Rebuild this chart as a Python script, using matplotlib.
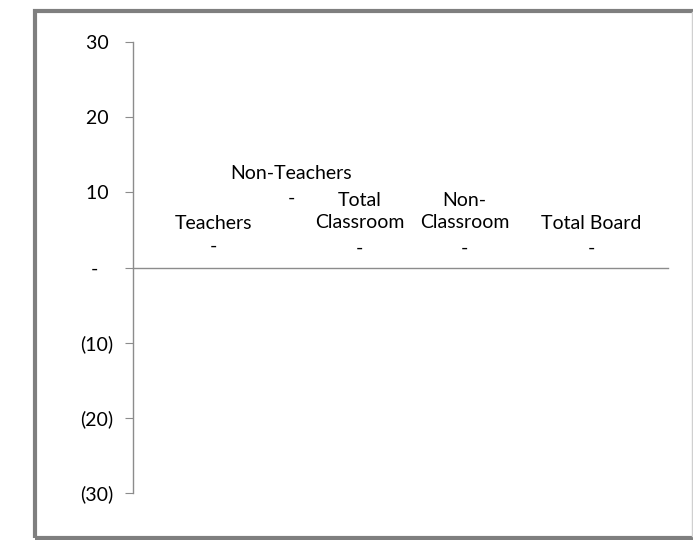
import matplotlib
matplotlib.use("Agg")
import matplotlib.pyplot as plt
from matplotlib.patches import Rectangle
from matplotlib.lines import Line2D

categories = ["Teachers", "Non-Teachers", "Total\nClassroom", "Non-\nClassroom", "Total Board"]
values = [0, 0, 0, 0, 0]
ytick_values = [30, 20, 10, 0, -10, -20, -30]
ytick_labels = ["30 ", "20 ", "10 ", "-   ", "(10)", "(20)", "(30)"]

# label placement (data coords of x, pixel offsets above the value)
label_x = [0.75, 1.48, 2.12, 3.10, 4.28]
name_off = [44, 94, 56, 56, 44]     # px above value line (center of name block)
value_off = [21, 69, 19, 19, 19]    # px above value line (dash)

FONT = "Lato"
W, H, DPI = 693, 540, 100
fig = plt.figure(figsize=(W / DPI, H / DPI), dpi=DPI)
fig.patch.set_facecolor("white")

ax = fig.add_axes([133 / W, 1 - 493 / H, (668 - 133) / W, (493 - 42) / H])
ax.set_xlim(0, 5)
ax.set_ylim(-30, 30)
ax.set_facecolor("none")

# invisible zero-height bars at category positions
ax.bar([i + 0.5 for i in range(len(values))], values, width=0.6, color="#4F81BD")

for s in ["top", "right"]:
    ax.spines[s].set_visible(False)
ax.spines["bottom"].set_position(("data", 0))
ax.spines["bottom"].set_color("#8c8c8c")
ax.spines["left"].set_color("#8c8c8c")
ax.spines["bottom"].set_linewidth(1.0)
ax.spines["left"].set_linewidth(1.0)
ax.set_xticks([])
ax.set_yticks(ytick_values)
ax.set_yticklabels(ytick_labels, fontfamily=FONT, fontsize=14)
ax.tick_params(axis="y", direction="out", length=6, color="#8c8c8c", pad=8, labelcolor="#000000")

px2pt = 72 / DPI
for i, (cat, v) in enumerate(zip(categories, values)):
    ax.annotate(cat, xy=(label_x[i], v), xytext=(0, name_off[i] * px2pt), textcoords="offset points",
                ha="center", va="center", fontfamily=FONT, fontsize=14, linespacing=1.4, color="black")
    lab = "-" if v == 0 else f"{v:,.0f}"
    ax.annotate(lab, xy=(label_x[i], v), xytext=(0, value_off[i] * px2pt), textcoords="offset points",
                ha="center", va="center", fontfamily=FONT, fontsize=14, color="black")

# chart border
fig.patches.append(Rectangle((34.5 / W, 1 - 537.5 / H), (720 - 34.5) / W, (537.5 - 10.5) / H,
                             transform=fig.transFigure, fill=False, edgecolor="#7f7f7f", linewidth=3.0))
fig.lines.append(Line2D([692 / W, 692 / W], [1 - 536 / H, 1 - 12 / H], transform=fig.transFigure,
                        color="#d0d0d0", linewidth=1.0))

fig.savefig("out.png", dpi=DPI, facecolor="white")
